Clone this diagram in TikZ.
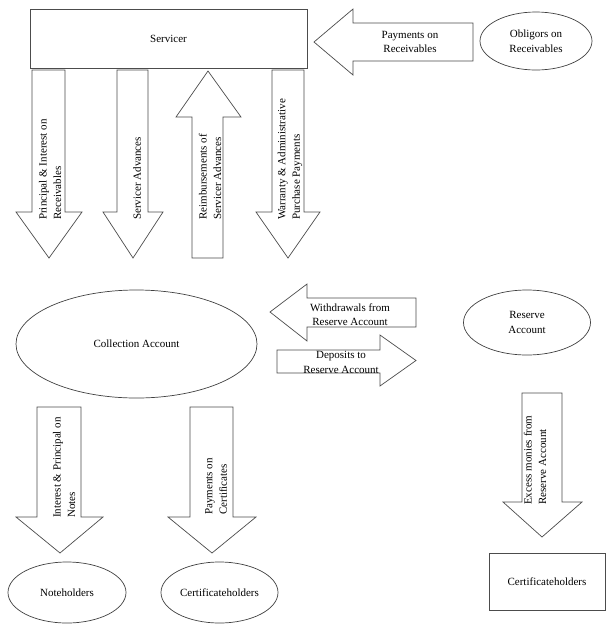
\documentclass[tikz,border=0pt]{standalone}
\usepackage{fontspec}
\setmainfont{Liberation Serif}
\usetikzlibrary{shapes.geometric}
\tikzset{
  blk/.style={draw=black!70, line width=0.7pt, fill=white, line join=miter},
  oval/.style={ellipse, draw=black!75, line width=0.7pt, inner sep=0pt, align=center},
  box/.style={rectangle, draw=black!70, line width=0.7pt, inner sep=0pt, align=center},
  lbl/.style={inner sep=0pt, align=center},
  vlbl/.style={inner sep=0pt, align=left, rotate=90, anchor=west},
}
\begin{document}
\begin{tikzpicture}[x=1pt, y=-1pt, font=\fontsize{11}{14.5}\selectfont]
\useasboundingbox (0,0) rectangle (615,641);

% Servicer
\node[box, minimum width=277, minimum height=59] (serv) at (168.5,38.5) {Servicer};

% Payments on Receivables (left arrow)
\draw[blk] (314,42) -- (353,9) -- (353,23) -- (473,23) -- (473,61) -- (353,61) -- (353,75) -- cycle;
\node[lbl] (payrec) at (410,42) {Payments on\\Receivables};

% Obligors
\node[oval, minimum width=112, minimum height=58] (oblig) at (536,41) {Obligors on\\Receivables};

% Down arrows from Servicer
\draw[blk] (32,70) -- (65,70) -- (65,212) -- (82,212) -- (49,258) -- (16,212) -- (32,212) -- cycle;
\node[vlbl] (pir) at (50,220) {Principal \& Interest on\\Receivables};

\draw[blk] (117,70) -- (148,70) -- (148,212) -- (163,212) -- (133,258) -- (103,212) -- (117,212) -- cycle;
\node[vlbl] (sadv) at (137,220) {Servicer Advances};

\draw[blk] (208,71) -- (241,117) -- (223,117) -- (223,258) -- (192,258) -- (192,117) -- (176,117) -- cycle;
\node[vlbl] (reimb) at (210,220) {Reimbursements of\\Servicer Advances};

\draw[blk] (272,70) -- (304,70) -- (304,212) -- (320,212) -- (288,258) -- (256,212) -- (272,212) -- cycle;
\node[vlbl] (warr) at (290,220) {Warranty \& Administrative\\Purchase Payments};

% Collection Account
\node[oval, minimum width=241, minimum height=108] (coll) at (136.5,344) {Collection Account};

% Withdrawals / Deposits
\draw[blk] (270,312) -- (307,284) -- (307,298) -- (416,298) -- (416,327) -- (307,327) -- (307,341) -- cycle;
\node[lbl] (withd) at (350,314.5) {Withdrawals from\\Reserve Account};

\draw[blk] (277,350) -- (380,350) -- (380,335) -- (416,360.5) -- (380,386) -- (380,373) -- (277,373) -- cycle;
\node[lbl] (dep) at (341,362.5) {Deposits to\\Reserve Account};

% Reserve Account
\node[oval, minimum width=127, minimum height=65] (res) at (527,322.5) {Reserve\\Account};

% Bottom arrows
\draw[blk] (37,407) -- (81,407) -- (81,517) -- (103,517) -- (60,553) -- (16,517) -- (37,517) -- cycle;
\node[vlbl] (ipn) at (64,518) {Interest \& Principal on\\Notes};

\draw[blk] (190,407) -- (233,407) -- (233,517) -- (256,517) -- (212,553) -- (168,517) -- (190,517) -- cycle;
\node[vlbl] (poc) at (216,515) {Payments on\\Certificates};

\draw[blk] (522,393) -- (562,393) -- (562,502) -- (582,502) -- (542,537) -- (503,502) -- (522,502) -- cycle;
\node[vlbl] (exc) at (535,505) {Excess monies from\\Reserve Account};

% Holders
\node[oval, minimum width=118, minimum height=61] (noteh) at (67,592.5) {Noteholders};
\node[oval, minimum width=117, minimum height=61] (certh) at (219.5,592.5) {Certificateholders};
\node[box, minimum width=116, minimum height=57] (certh2) at (547,581.5) {Certificateholders};
\end{tikzpicture}
\end{document}
